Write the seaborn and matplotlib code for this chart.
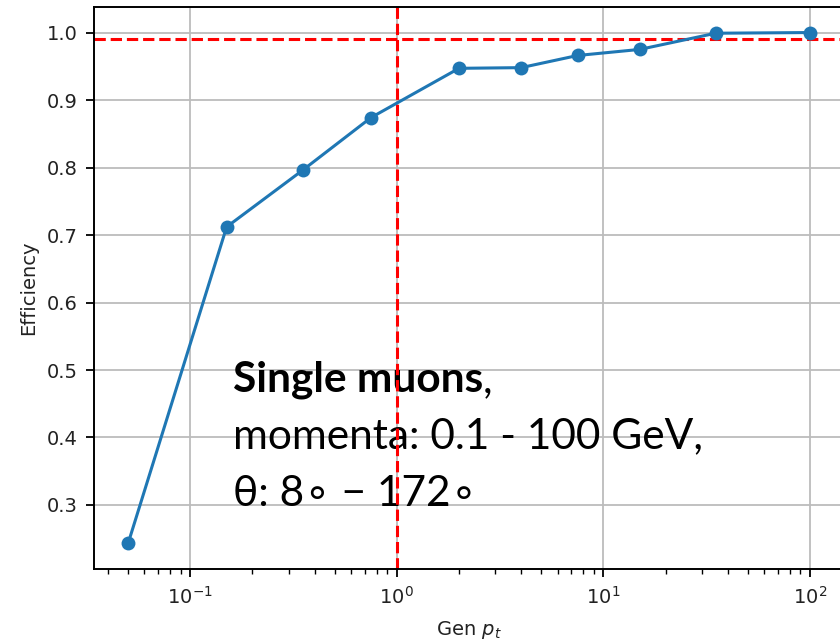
import matplotlib
matplotlib.use("Agg")
import matplotlib.pyplot as plt
import seaborn as sns
import pandas as pd

gen_pt = [0.05, 0.15, 0.35, 0.75, 2, 4, 7.5, 15, 35, 100]
efficiency = [0.243, 0.712, 0.796, 0.874, 0.947, 0.948, 0.966, 0.975, 0.999, 1.0]
threshold_eff = 0.99
threshold_pt = 1.0
text_bold = "Single muons"
text_lines = ["momenta: 0.1 - 100 GeV,", "θ: 8∘ − 172∘"]

df = pd.DataFrame({"pt": gen_pt, "eff": efficiency})

plt.style.use("default")
fig = plt.figure(figsize=(8.4, 6.44), dpi=100)
ax = fig.add_axes([94/840, 1 - 569/644, 750/840, 562/644])

sns.lineplot(data=df, x="pt", y="eff", ax=ax, marker="o", color="#1f77b4",
             linewidth=2.2, markersize=10, markeredgewidth=0, zorder=3)
ax.set_xscale("log")
ax.margins(x=0.05, y=0.05)
ax.axhline(threshold_eff, color="red", linestyle="--", linewidth=2.2, zorder=2.5)
ax.axvline(threshold_pt, color="red", linestyle="--", linewidth=2.2, zorder=2.5)
ax.grid(True, which="major", color="#bcbcbc", linewidth=1.3)
ax.set_axisbelow(True)

ax.tick_params(axis="both", which="major", labelsize=14, length=6, width=1.3,
               labelcolor="#222222")
ax.tick_params(axis="x", which="major", pad=6)
ax.tick_params(axis="y", which="major", pad=6)
ax.tick_params(axis="x", which="minor", length=3.5, width=1.0)
ax.set_xlabel("Gen $p_t$", fontsize=14, labelpad=8, color="#222222")
ax.set_ylabel("Efficiency", fontsize=14, labelpad=6, color="#222222")
for s in ax.spines.values():
    s.set_linewidth(1.4)

fam = ["Lato", "DejaVu Sans"]
fs = 30.5
ys = [0.315, 0.215, 0.112]
x0 = 0.185
t0 = ax.text(x0, ys[0], text_bold, transform=ax.transAxes, fontsize=fs,
             fontweight="bold", family=fam, va="baseline", ha="left", zorder=2)
fig.canvas.draw()
bb = t0.get_window_extent().transformed(ax.transAxes.inverted())
ax.text(bb.x1, ys[0], ",", transform=ax.transAxes, fontsize=fs,
        family=fam, va="baseline", ha="left", zorder=2)
ax.text(x0, ys[1], text_lines[0], transform=ax.transAxes, fontsize=fs,
        family=fam, va="baseline", ha="left", zorder=2)
ax.text(x0, ys[2], text_lines[1], transform=ax.transAxes, fontsize=fs,
        family=fam, va="baseline", ha="left", zorder=2)

fig.savefig("out.png", dpi=100)
